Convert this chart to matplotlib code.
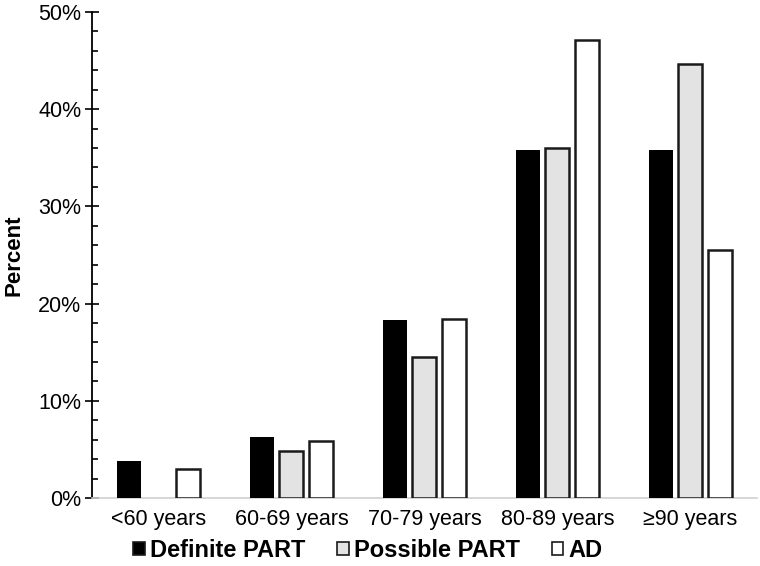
import numpy as np
import matplotlib.pyplot as plt
from matplotlib.ticker import MultipleLocator, PercentFormatter
from matplotlib.patches import Patch

plt.rcParams['font.family'] = ['Liberation Sans', 'DejaVu Sans']

categories = ['<60 years', '60-69 years', '70-79 years', '80-89 years', '\u226590 years']
definite_part = [3.8, 6.3, 18.3, 35.8, 35.8]
possible_part = [0.0, 4.8, 14.5, 36.0, 44.6]
ad = [3.0, 5.9, 18.4, 47.1, 25.5]

series = [
    ('Definite PART', definite_part, 'black'),
    ('Possible PART', possible_part, '#e3e3e3'),
    ('AD', ad, 'white'),
]

fig = plt.figure(figsize=(7.6, 5.66), dpi=100)
ax = fig.add_axes([0.121, 0.120, 0.875, 0.859])

x = np.arange(len(categories))
step = 0.222
width = 0.18
for i, (name, vals, color) in enumerate(series):
    vals = np.array(vals)
    mask = vals > 0
    ax.bar(x[mask] + (i - 1) * step, vals[mask], width=width, color=color,
           edgecolor='#1a1a1a', linewidth=1.8 if i else 0, zorder=3)

ax.set_xlim(-0.5, len(categories) - 0.5)
ax.set_ylim(0, 50)
ax.yaxis.set_major_locator(MultipleLocator(10))
ax.yaxis.set_minor_locator(MultipleLocator(2))
ax.yaxis.set_major_formatter(PercentFormatter(decimals=0))
ax.set_xticks(x)
ax.set_xticklabels(categories, fontsize=15.5)
ax.tick_params(axis='x', length=0, pad=8)
ax.tick_params(axis='y', which='major', direction='inout', length=9.5, width=1.2,
               labelsize=15.5, pad=3)
ax.tick_params(axis='y', which='minor', direction='in', length=4.5, width=1.2)

for s in ['top', 'right']:
    ax.spines[s].set_visible(False)
ax.spines['left'].set_linewidth(1.3)
ax.spines['bottom'].set_color('#d0d0d0')
ax.spines['bottom'].set_linewidth(1.2)

ax.set_ylabel('Percent', fontsize=16, fontweight='bold', labelpad=10)

handles = [Patch(facecolor=c, edgecolor='#1a1a1a', linewidth=1.2, label=n) for n, _, c in series]
fig.legend(handles=handles, loc='lower center', bbox_to_anchor=(0.484, -0.03), ncol=3,
           frameon=False, prop={'size': 17, 'weight': 'bold'}, handlelength=0.5,
           handleheight=0.5, handletextpad=0.2, columnspacing=1.35)

plt.savefig('out.png', dpi=100)
